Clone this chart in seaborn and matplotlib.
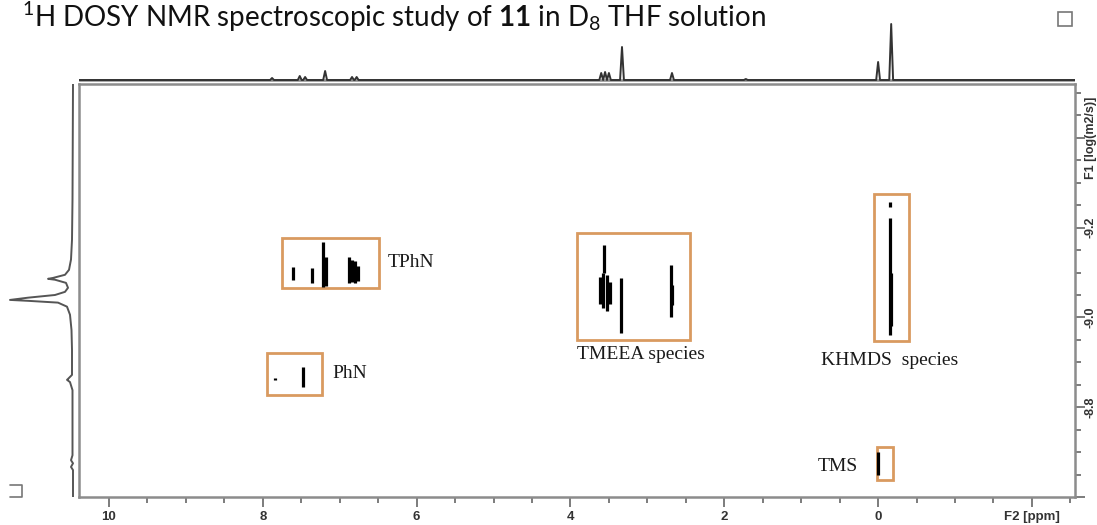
import numpy as np
import pandas as pd
import matplotlib
matplotlib.use("Agg")
import matplotlib.pyplot as plt
from matplotlib.patches import Rectangle
from matplotlib.ticker import FixedLocator, MultipleLocator
import seaborn as sns

# ---------------- data ----------------
# F2 (1H) projection shown above the map: peak shifts (ppm) and heights
f2_peak_ppm = [7.88, 7.52, 7.45, 7.19, 6.84, 6.78, 3.60, 3.55, 3.50, 3.33, 2.68, 1.72, 0.00, -0.17]
f2_peak_height = [2, 4, 3, 9, 3, 3, 7, 8, 7, 33, 7, 1, 18, 56]

# F1 (diffusion) projection shown left of the map: log D and intensity
f1_logd = [-9.52, -9.2625, -9.173, -9.129, -9.106, -9.095, -9.088, -9.086, -9.084,
           -9.077, -9.066, -9.057, -9.050, -9.044, -9.039, -9.037, -9.033, -9.024,
           -9.006, -8.972, -8.928, -8.872, -8.863, -8.861, -8.856, -8.838, -8.693,
           -8.682, -8.675, -8.667, -8.660, -8.60]
f1_intensity = [0, 0.5, 1, 2, 4, 8, 20, 25, 18, 7, 5, 8, 18, 45, 63, 45, 15, 6,
                3, 1.5, 1, 1, 5, 6, 3, 0.5, 0.5, 2, 0, 2, 0, 0]

# DOSY cross peaks: chemical shift and log D extent
cross_species = ["TPhN"] * 8 + ["PhN"] * 2 + ["TMEEA"] * 8 + ["KHMDS"] * 3 + ["TMS"]
cross_ppm = [7.61, 7.36, 7.215, 7.18, 6.88, 6.84, 6.80, 6.76,
             7.84, 7.48,
             3.56, 3.62, 3.58, 3.53, 3.49, 3.34, 2.69, 2.68,
             -0.16, -0.16, -0.17,
             0.00]
cross_logd_top = [-9.113, -9.111, -9.169, -9.135, -9.135, -9.128, -9.125, -9.115,
                  -8.866, -8.890,
                  -9.162, -9.090, -9.100, -9.095, -9.080, -9.088, -9.117, -9.073,
                  -9.258, -9.222, -9.100,
                  -8.700]
cross_logd_bottom = [-9.084, -9.077, -9.068, -9.070, -9.077, -9.080, -9.077, -9.082,
                     -8.860, -8.845,
                     -9.100, -9.030, -9.020, -9.015, -9.030, -8.966, -9.001, -9.028,
                     -9.245, -8.961, -8.980,
                     -8.649]

# species boxes
box_names = ["TPhN", "PhN", "TMEEA", "KHMDS", "TMS"]
box_ppm_left = [7.75, 7.95, 3.91, 0.05, 0.01]
box_ppm_right = [6.49, 7.23, 2.44, -0.40, -0.20]
box_logd_top = [-9.178, -8.921, -9.189, -9.274, -8.711]
box_logd_bottom = [-9.066, -8.827, -8.950, -8.948, -8.638]

# species labels
label_text = ["TPhN", "PhN", "TMEEA species", "KHMDS  species", "TMS"]
label_ppm = [6.37, 7.09, 3.08, -0.156, 0.79]
label_logd = [-9.122, -8.874, -8.917, -8.905, -8.669]

# axis ticks
x_major = [10, 8, 6, 4, 2, 0, -2]
x_major_labels = ["10", "8", "6", "4", "2", "0", "F2 [ppm]"]
y_major = [-9.4, -9.2, -9.0, -8.8, -8.6]
y_major_labels = ["F1 [log(m2/s)]", "-9.2", "-9.0", "-8.8", ""]

title = r"$^{1}$H DOSY NMR spectroscopic study of $\mathbf{11}$ in D$_{8}$ THF solution"

# ---------------- style ----------------
sns.set_theme(style="white")
plt.rcParams["font.family"] = ["Liberation Sans", "DejaVu Sans"]
plt.rcParams["mathtext.fontset"] = "custom"
plt.rcParams["mathtext.rm"] = "Lato"
plt.rcParams["mathtext.bf"] = "Lato:bold"
plt.rcParams["mathtext.it"] = "Lato:italic"

W, H = 1097, 525
fig = plt.figure(figsize=(W / 100, H / 100), dpi=100)
fig.patch.set_facecolor("white")

XLIM = (10.39, -2.56)
YLIM = (-8.60, -9.52)
frame_col = "#8c8c8c"
box_col = "#d99a60"

# main map axes (pixel box: x 79..1075, y 84..497)
main_rect = [79 / W, 1 - 497 / H, 996 / W, 413 / H]
ax = fig.add_axes(main_rect)
ax.set_xlim(*XLIM)
ax.set_ylim(*YLIM)
for s in ax.spines.values():
    s.set_color(frame_col)
    s.set_linewidth(1.8)

ax.xaxis.set_major_locator(FixedLocator(x_major))
ax.set_xticklabels(x_major_labels)
ax.xaxis.set_minor_locator(MultipleLocator(0.5))
ax.yaxis.tick_right()
ax.yaxis.set_major_locator(FixedLocator(y_major))
ax.set_yticklabels(y_major_labels)
ax.yaxis.set_minor_locator(MultipleLocator(0.05))
ax.tick_params(which="both", direction="out", color="#666666", width=1.2,
               labelcolor="#333333")
ax.tick_params(which="major", length=7)
ax.tick_params(which="minor", length=4)
ax.tick_params(axis="x", which="both", bottom=True, top=False, pad=3, labelsize=9.5)
ax.tick_params(axis="y", which="both", right=True, left=False, pad=0, labelsize=9)
for lab in ax.get_xticklabels() + ax.get_yticklabels():
    lab.set_fontweight("bold")
for lab in ax.get_yticklabels():
    lab.set_rotation(90)
    lab.set_va("center")
    lab.set_ha("left")
ax.set_xlabel("")
ax.set_ylabel("")

# cross peaks
peaks = pd.DataFrame({"species": cross_species, "ppm": cross_ppm,
                      "top": cross_logd_top, "bottom": cross_logd_bottom})
ax.vlines(peaks["ppm"], peaks["top"], peaks["bottom"], colors="black",
          linewidth=2.3, zorder=3)

# species boxes and labels
for l, r, t, b in zip(box_ppm_left, box_ppm_right, box_logd_top, box_logd_bottom):
    ax.add_patch(Rectangle((r, b), l - r, t - b, fill=False, edgecolor=box_col,
                           linewidth=2, zorder=2))
for txt, xp, yp in zip(label_text, label_ppm, label_logd):
    ha = "center" if "species" in txt else "left"
    ax.text(xp, yp, txt, ha=ha, va="center", fontsize=14,
            family=["Liberation Serif", "DejaVu Serif"], color="#1a1a1a")

# top projection (F2)
ax_top = fig.add_axes([79 / W, 1 - 84 / H, 996 / W, 84 / H])
ax_top.set_xlim(*XLIM)
ax_top.set_ylim(-4, 80)
ax_top.axis("off")
half_w = 0.025
tx, ty = [XLIM[0]], [0.0]
for p, h in sorted(zip(f2_peak_ppm, f2_peak_height), key=lambda v: -v[0]):
    tx += [p + half_w, p, p - half_w]
    ty += [0.0, h, 0.0]
tx.append(XLIM[1])
ty.append(0.0)
ax_top.axhline(0, color=frame_col, linewidth=1.8, zorder=1)
sns.lineplot(x=tx, y=ty, sort=False, estimator=None, color="#333333",
             linewidth=1.4, ax=ax_top, zorder=2)

# left projection (F1)
ax_left = fig.add_axes([0, 1 - 497 / H, 79 / W, 413 / H])
ax_left.set_xlim(73, -6)
ax_left.set_ylim(*YLIM)
ax_left.axis("off")
sns.lineplot(x=f1_intensity, y=f1_logd, sort=False, estimator=None,
             color="#555555", linewidth=1.4, ax=ax_left)

# title
fig.text(22 / W, 1 - 27 / H, title, fontsize=20, va="baseline", ha="left",
         family=["Lato", "DejaVu Sans"], color="#111111")

# document frame handles
ov = fig.add_axes([0, 0, 1, 1], facecolor="none")
ov.set_xlim(0, W)
ov.set_ylim(H, 0)
ov.axis("off")
ov.add_patch(Rectangle((1058, 12), 14, 14, fill=False, edgecolor="#777777", linewidth=1.2))
ov.plot([10, 22, 22, 10], [485, 485, 497, 497], color="#777777", linewidth=1.2)

fig.savefig("out.png", dpi=100)
